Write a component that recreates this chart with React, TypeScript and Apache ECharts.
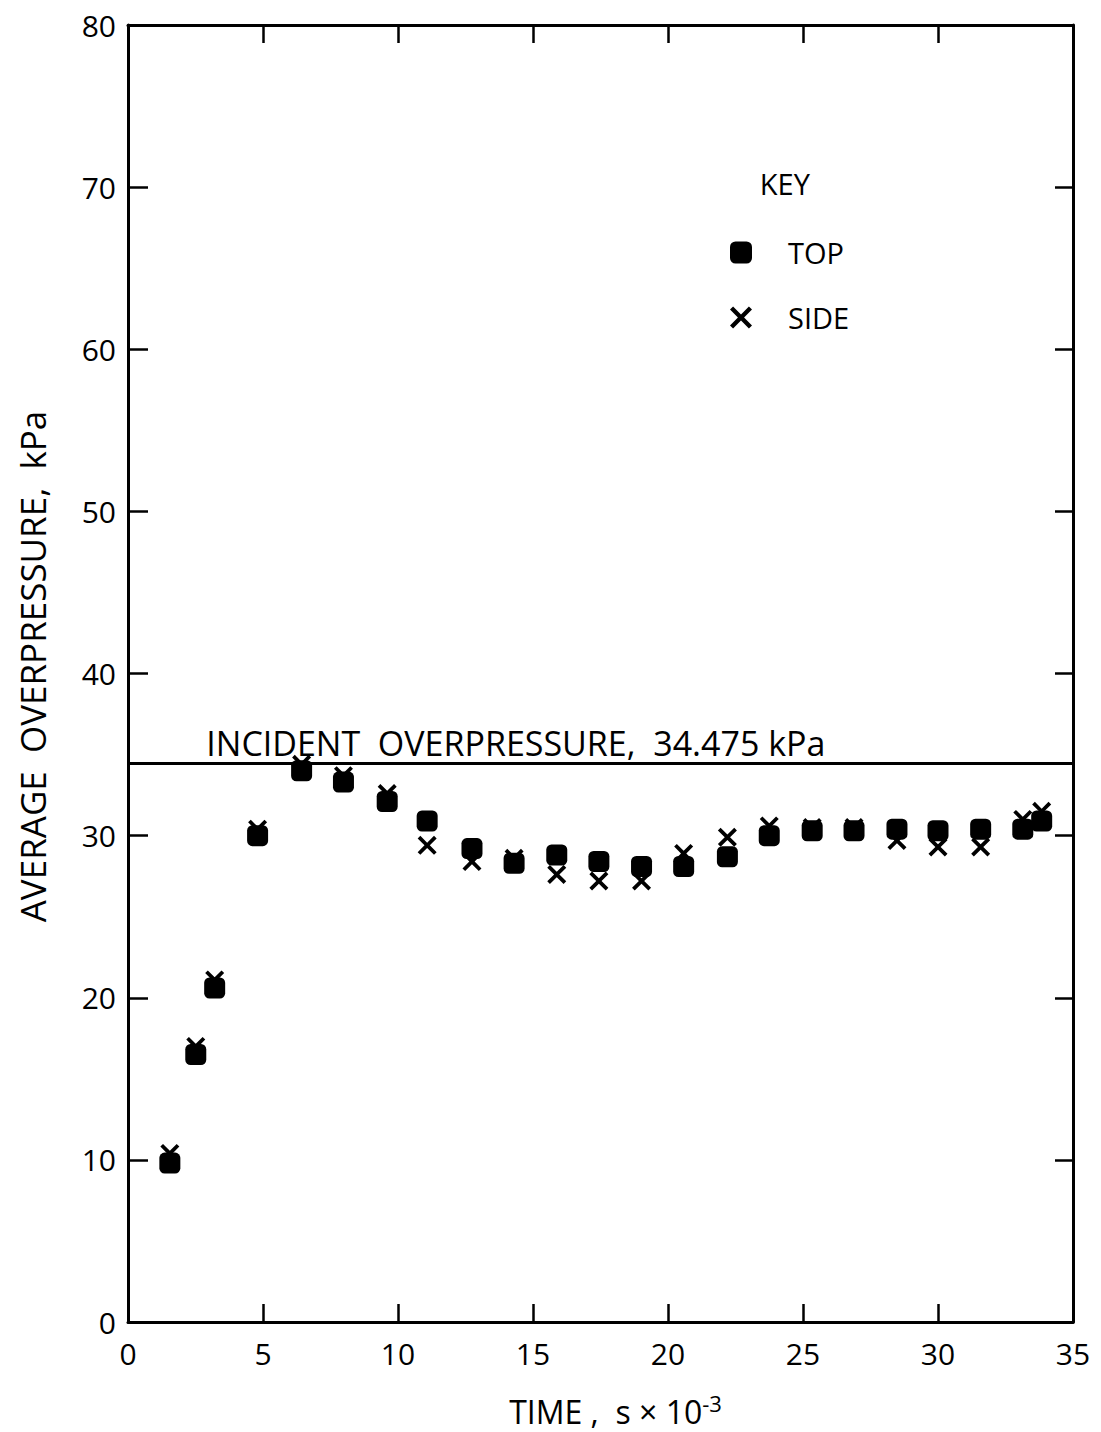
import React, { useEffect, useRef } from "react";
import * as echarts from "echarts";

const times = [1.55, 2.51, 3.21, 4.8, 6.43, 7.98, 9.6, 11.08, 12.74, 14.3, 15.88, 17.44, 19.02, 20.58, 22.2, 23.75, 25.34, 26.89, 28.48, 30.0, 31.58, 33.14, 33.84];
const topValues = [9.8, 16.5, 20.6, 30.0, 34.0, 33.3, 32.1, 30.9, 29.2, 28.3, 28.8, 28.4, 28.1, 28.1, 28.7, 30.0, 30.3, 30.3, 30.4, 30.3, 30.4, 30.4, 30.9];
const sideValues = [10.4, 17.0, 21.1, 30.4, 34.4, 33.7, 32.6, 29.4, 28.4, 28.6, 27.6, 27.2, 27.2, 28.9, 29.9, 30.6, 30.5, 30.5, 29.7, 29.3, 29.3, 31.0, 31.5];
const incidentOverpressure = 34.475;
const incidentLabel = "INCIDENT  OVERPRESSURE,  34.475 kPa";
const xTitle = "TIME ,  s × 10{sup|-3}";
const yTitle = "AVERAGE  OVERPRESSURE,  kPa";

const FONT = "Open Sans";
const X_SYMBOL = "path://M0,1.4 L1.4,0 L5,3.6 L8.6,0 L10,1.4 L6.4,5 L10,8.6 L8.6,10 L5,6.4 L1.4,10 L0,8.6 L3.6,5 Z";

export default function App() {
  const ref = useRef<HTMLDivElement>(null);
  useEffect(() => {
    if (!ref.current) return;
    const chart = echarts.init(ref.current, null, { renderer: "svg" });
    const grid = { left: 128, right: 28, top: 25, bottom: 105 };
    const axisLine = { show: true, onZero: false, lineStyle: { color: "#000", width: 3 } };
    const tick = (len: number) => ({ show: true, inside: true, length: len, lineStyle: { color: "#000", width: 2.5 } });
    chart.setOption({
      animation: false,
      backgroundColor: "#fff",
      grid,
      legend: {
        orient: "vertical",
        left: 725,
        top: 233,
        itemGap: 36,
        itemWidth: 22,
        itemHeight: 22,
        textStyle: { fontFamily: FONT, fontSize: 29, color: "#000", padding: [0, 0, 0, 31] },
        data: [
          { name: "TOP", icon: "roundRect" },
          { name: "SIDE", icon: X_SYMBOL },
        ],
      },
      xAxis: [
        {
          type: "value",
          min: 0,
          max: 35,
          interval: 5,
          position: "bottom",
          axisLine,
          axisTick: tick(18),
          axisLabel: { fontFamily: FONT, fontSize: 30, color: "#000", margin: 16 },
          splitLine: { show: false },
          name: xTitle,
          nameLocation: "middle",
          nameGap: 70,
          nameTextStyle: {
            fontFamily: FONT,
            fontSize: 32,
            color: "#000",
            padding: [0, 0, 0, 30],
            rich: {
              sup: { fontFamily: FONT, fontSize: 22, color: "#000", verticalAlign: "top", padding: [0, 0, 16, 0] },
            },
          },
        },
        {
          type: "value",
          min: 0,
          max: 35,
          interval: 5,
          position: "top",
          axisLine,
          axisTick: tick(18),
          axisLabel: { show: false },
          splitLine: { show: false },
        },
      ],
      yAxis: [
        {
          type: "value",
          min: 0,
          max: 80,
          interval: 10,
          position: "left",
          axisLine,
          axisTick: tick(20),
          axisLabel: { fontFamily: FONT, fontSize: 30, color: "#000", margin: 12 },
          splitLine: { show: false },
          name: yTitle,
          nameLocation: "middle",
          nameGap: 78,
          nameTextStyle: { fontFamily: FONT, fontSize: 35, color: "#000", padding: [0, 0, 0, 14] },
        },
        {
          type: "value",
          min: 0,
          max: 80,
          interval: 10,
          position: "right",
          axisLine,
          axisTick: tick(18),
          axisLabel: { show: false },
          splitLine: { show: false },
        },
      ],
      series: [
        {
          name: "TOP",
          type: "scatter",
          symbol: "roundRect",
          symbolSize: 21,
          itemStyle: { color: "#000", opacity: 1 },
          data: times.map((t, i) => [t, topValues[i]]),
          markLine: {
            silent: true,
            symbol: "none",
            lineStyle: { color: "#000", width: 3, type: "solid" },
            label: { show: false },
            data: [{ yAxis: incidentOverpressure }],
          },
          z: 2,
        },
        {
          name: "SIDE",
          type: "scatter",
          symbol: X_SYMBOL,
          symbolSize: 19,
          itemStyle: { color: "#000", opacity: 1 },
          data: times.map((t, i) => [t, sideValues[i]]),
          z: 3,
        },
      ],
    });
    const keyPos = chart.convertToPixel({ gridIndex: 0 }, [23.4, 70.2]) as number[];
    const incPos = chart.convertToPixel({ gridIndex: 0 }, [2.9, incidentOverpressure]) as number[];
    chart.setOption({
      graphic: [
        {
          type: "text",
          x: keyPos[0],
          y: keyPos[1],
          style: { text: "KEY", fontFamily: FONT, fontSize: 29, fill: "#000", align: "left", verticalAlign: "middle" },
        },
        {
          type: "text",
          x: incPos[0],
          y: incPos[1] - 3,
          style: { text: incidentLabel, fontFamily: FONT, fontSize: 34, fill: "#000", align: "left", verticalAlign: "bottom" },
        },
      ],
    });
    return () => chart.dispose();
  }, []);
  return <div ref={ref} style={{ position: "absolute", left: 0, top: 0, width: 1101, height: 1432 }} />;
}
